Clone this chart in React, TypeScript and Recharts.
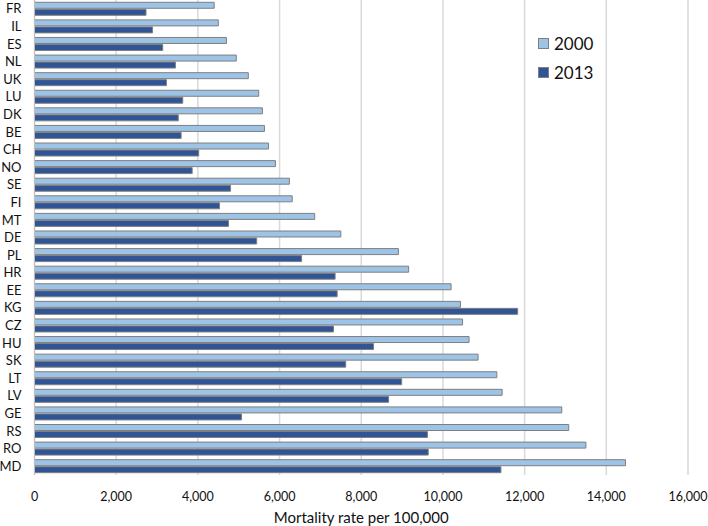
import { BarChart, Bar, XAxis, YAxis, CartesianGrid } from "recharts";

const countries = ["FR", "IL", "ES", "NL", "UK", "LU", "DK", "BE", "CH", "NO", "SE", "FI", "MT", "DE", "PL", "HR", "EE", "KG", "CZ", "HU", "SK", "LT", "LV", "GE", "RS", "RO", "MD"];
const rate2000 = [4400, 4500, 4700, 4940, 5235, 5490, 5580, 5630, 5730, 5900, 6240, 6310, 6860, 7500, 8910, 9160, 10200, 10430, 10480, 10640, 10860, 11320, 11450, 12910, 13080, 13500, 14470];
const rate2013 = [2730, 2890, 3140, 3450, 3230, 3630, 3520, 3590, 4020, 3860, 4800, 4530, 4750, 5440, 6540, 7360, 7410, 11830, 7320, 8300, 7620, 8990, 8670, 5070, 9620, 9640, 11420];
const xTicks = [0, 2000, 4000, 6000, 8000, 10000, 12000, 14000, 16000];

const data = countries.map((c, i) => ({ country: c, y2000: rate2000[i], y2013: rate2013[i] }));

const FONT = "Lato, 'Noto Sans', sans-serif";
const LIGHT = "#9dc3e6";
const DARK = "#2f5597";
const EDGE = "#7f7f7f";

function LegendBox() {
  const items = [
    { label: "2000", color: LIGHT },
    { label: "2013", color: DARK },
  ];
  return (
    <div style={{ position: "absolute", left: 538, top: 29, fontFamily: FONT, fontSize: 17, color: "#111" }}>
      {items.map((it) => (
        <div key={it.label} style={{ display: "flex", alignItems: "center", height: 29 }}>
          <span style={{ width: 9, height: 9, background: it.color, border: `1px solid ${EDGE}`, marginRight: 5 }} />
          {it.label}
        </div>
      ))}
    </div>
  );
}

export default function App() {
  return (
    <div style={{ position: "absolute", left: 0, top: 0, width: 708, height: 526, background: "#fff" }}>
      <BarChart
        width={708}
        height={526}
        data={data}
        layout="vertical"
        margin={{ top: 0, right: 20, bottom: 0, left: 0 }}
        barCategoryGap="13%"
        barGap={1}
      >
        <CartesianGrid horizontal={false} stroke="#d9d9d9" strokeWidth={1.5} />
        <XAxis
          type="number"
          domain={[0, 16000]}
          ticks={xTicks}
          tickFormatter={(v: number) => v.toLocaleString("en-US")}
          axisLine={false}
          tickLine={false}
          tickMargin={11}
          height={51}
          tick={{ fill: "#111", fontSize: 12.5, fontFamily: FONT }}
          label={{ value: "Mortality rate per 100,000", position: "insideBottom", offset: 3, fill: "#111", fontSize: 15, fontFamily: FONT }}
        />
        <YAxis
          type="category"
          dataKey="country"
          width={34.5}
          axisLine={{ stroke: "#bfbfbf" }}
          tickLine={false}
          tickSize={0}
          tickMargin={13}
          interval={0}
          tick={{ fill: "#111", fontSize: 13, fontFamily: FONT }}
        />
        <Bar dataKey="y2000" name="2000" fill={LIGHT} stroke={EDGE} strokeWidth={1} isAnimationActive={false} />
        <Bar dataKey="y2013" name="2013" fill={DARK} stroke={EDGE} strokeWidth={1} isAnimationActive={false} />
      </BarChart>
      <LegendBox />
    </div>
  );
}
